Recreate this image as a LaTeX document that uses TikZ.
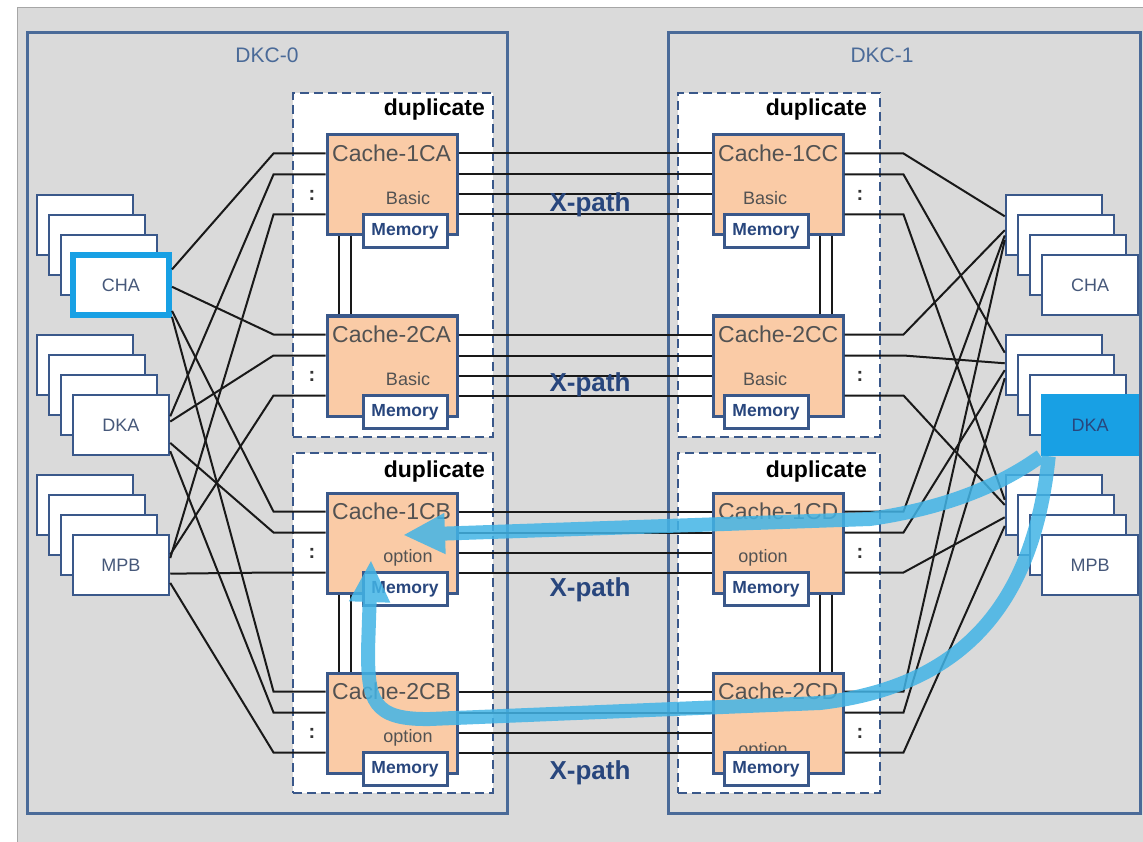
\documentclass[tikz,border=0pt]{standalone}
\usepackage{fontspec}
\setmainfont{Liberation Sans}
\usetikzlibrary{arrows.meta,calc}

\definecolor{bgray}{RGB}{218,218,218}
\definecolor{frameblue}{RGB}{74,106,152}
\definecolor{boxblue}{RGB}{58,88,138}
\definecolor{peach}{RGB}{250,203,166}
\definecolor{cyanhl}{RGB}{24,160,228}
\definecolor{flowblue}{RGB}{66,180,230}
\definecolor{xpathblue}{RGB}{40,70,125}
\definecolor{labelgray}{RGB}{82,82,82}
\definecolor{cardtext}{RGB}{70,88,122}

\tikzset{
  dkcbox/.style={draw=frameblue, line width=3pt, fill=bgray},
  dupbox/.style={draw=boxblue, line width=2.5pt, dash pattern=on 9pt off 5pt, fill=white},
  card/.style={draw=boxblue, line width=2.5pt, fill=white, minimum width=96pt,
    minimum height=60pt, inner sep=0pt, font=\fontsize{18}{20}\selectfont, text=cardtext},
  cache/.style={draw=boxblue, line width=3pt, fill=peach, minimum width=130pt,
    minimum height=100pt, inner sep=0pt},
  mem/.style={draw=boxblue, line width=3pt, fill=white, minimum width=84pt,
    minimum height=33pt, inner sep=0pt, font=\bfseries\fontsize{17.5}{19}\selectfont, text=xpathblue},
  cachename/.style={font=\fontsize{23}{25}\selectfont, text=labelgray, inner sep=0pt, anchor=west},
  cachekind/.style={font=\fontsize{18}{20}\selectfont, text=labelgray, inner sep=0pt},
  duptext/.style={font=\bfseries\fontsize{23}{25}\selectfont, inner sep=0pt, anchor=east},
  xpath/.style={font=\bfseries\fontsize{26}{28}\selectfont, text=xpathblue, inner sep=0pt},
  dkctext/.style={font=\fontsize{21}{23}\selectfont, text=frameblue, inner sep=0pt},
  dots/.style={font=\bfseries\fontsize{20}{22}\selectfont, text=black!80, inner sep=0pt},
  wire/.style={draw=black!90, line width=2pt},
  flow/.style={draw=flowblue, line width=14pt, -{Triangle[length=42pt,width=38pt]}},
}

\begin{document}
\begin{tikzpicture}[x=1pt,y=-1pt]
    % frame
    \useasboundingbox (0,0) rectangle (1143,842);
    \fill[white] (0,0) rectangle (1143,842);
    \fill[bgray] (17,8) rectangle (1143,842);
    \draw[black!35, line width=1pt] (17,842) -- (17,8) -- (1143,8);

    % the two controllers
    \node[dkcbox, minimum width=480pt, minimum height=780pt] (dkc0) at (267,423) {};
    \node[dkcbox, minimum width=472pt, minimum height=780pt] (dkc1) at (904,423) {};
    \node[dkctext] (dkc0t) at (267,55) {DKC-0};
    \node[dkctext] (dkc1t) at (882,55) {DKC-1};

    % duplicate areas
    \begin{scope}[every node/.style={dupbox}]
        \node[minimum width=200pt, minimum height=344pt] (dupa) at (393,265) {};
        \node[minimum width=200pt, minimum height=340pt] (dupb) at (393,623) {};
        \node[minimum width=202pt, minimum height=344pt] (dupc) at (779,265) {};
        \node[minimum width=202pt, minimum height=340pt] (dupd) at (779,623) {};
    \end{scope}
    \begin{scope}[every node/.style={duptext}]
        \node (dupat) at (485,110) {duplicate};
        \node (dupbt) at (485,472) {duplicate};
        \node (dupct) at (867,110) {duplicate};
        \node (dupdt) at (867,472) {duplicate};
    \end{scope}

    % adapter cards, DKC-0
    \begin{scope}[every node/.style={card}]
        \node (chal0) at (85,225) {};
        \node (chal1) at (97,245) {};
        \node (chal2) at (109,265) {};
        \node[draw=cyanhl, line width=6pt] (chal) at (121,285) {CHA};
        \node (dkal0) at (85,365) {};
        \node (dkal1) at (97,385) {};
        \node (dkal2) at (109,405) {};
        \node (dkal) at (121,425) {DKA};
        \node (mpbl0) at (85,505) {};
        \node (mpbl1) at (97,525) {};
        \node (mpbl2) at (109,545) {};
        \node (mpbl) at (121,565) {MPB};
    \end{scope}

    % adapter cards, DKC-1
    \begin{scope}[every node/.style={card}]
        \node (char0) at (1054,225) {};
        \node (char1) at (1066,245) {};
        \node (char2) at (1078,265) {};
        \node (char) at (1090,285) {CHA};
        \node (dkar0) at (1054,365) {};
        \node (dkar1) at (1066,385) {};
        \node (dkar2) at (1078,405) {};
        \node[fill=cyanhl, draw=cyanhl, text=xpathblue] (dkar) at (1090,425) {DKA};
        \node (mpbr0) at (1054,505) {};
        \node (mpbr1) at (1066,525) {};
        \node (mpbr2) at (1078,545) {};
        \node (mpbr) at (1090,565) {MPB};
    \end{scope}

    % caches
    \begin{scope}[every node/.style={cache}]
        \node (c1a) at (392,185) {};
        \node (c2a) at (392,366) {};
        \node (c1b) at (392,543) {};
        \node (c2b) at (392,723) {};
        \node (c1c) at (778,185) {};
        \node (c2c) at (778,366) {};
        \node (c1d) at (778,543) {};
        \node (c2d) at (778,723) {};
    \end{scope}

    % cache to adapter wiring, DKC-0
    \begin{scope}[every path/.style={wire}]
        \draw ($(c1a.north west)+(0,20)$) -- ++(-52,0) -- (chal.17);
        \draw ($(c1a.north west)+(0,41)$) -- ++(-52,0) -- (dkal.10);
        \draw ($(c1a.north west)+(0,81)$) -- ++(-52,0) -- (mpbl.8);
        \draw ($(c2a.north west)+(0,20)$) -- ++(-52,0) -- (chal.-2);
        \draw ($(c2a.north west)+(0,41)$) -- ++(-52,0) -- (dkal.4);
        \draw ($(c2a.north west)+(0,81)$) -- ++(-52,0) -- (mpbl.12);
        \draw ($(c1b.north west)+(0,20)$) -- ++(-52,0) -- (chal.-27);
        \draw ($(c1b.north west)+(0,41)$) -- ++(-52,0) -- (dkal.-20);
        \draw ($(c1b.north west)+(0,81)$) -- ++(-52,0) -- (mpbl.-10);
        \draw ($(c2b.north west)+(0,20)$) -- ++(-52,0) -- (chal.-32);
        \draw ($(c2b.north west)+(0,41)$) -- ++(-52,0) -- (dkal.-28);
        \draw ($(c2b.north west)+(0,81)$) -- ++(-52,0) -- (mpbl.-20);
    \end{scope}

    % cache to adapter wiring, DKC-1
    \begin{scope}[every path/.style={wire}]
        \draw ($(c1c.north east)+(0,20)$) -- ++(59,0) -- (char0.170);
        \draw ($(c1c.north east)+(0,41)$) -- ++(59,0) -- (dkar0.166);
        \draw ($(c1c.north east)+(0,81)$) -- ++(59,0) -- (mpbr0.174);
        \draw ($(c2c.north east)+(0,20)$) -- ++(59,0) -- (char0.186);
        \draw ($(c2c.north east)+(0,41)$) -- ++(59,0) -- (dkar0.178);
        \draw ($(c2c.north east)+(0,81)$) -- ++(59,0) -- (mpbr0.180);
        \draw ($(c1d.north east)+(0,20)$) -- ++(59,0) -- (char0.192);
        \draw ($(c1d.north east)+(0,41)$) -- ++(59,0) -- (dkar0.186);
        \draw ($(c1d.north east)+(0,81)$) -- ++(59,0) -- (mpbr0.194);
        \draw ($(c2d.north east)+(0,20)$) -- ++(59,0) -- (char0.197);
        \draw ($(c2d.north east)+(0,41)$) -- ++(59,0) -- (dkar0.195);
        \draw ($(c2d.north east)+(0,81)$) -- ++(59,0) -- (mpbr0.203);
    \end{scope}

    % X-path links
    \begin{scope}[every path/.style={wire}]
        \draw ($(c1a.north east)+(0,20)$) -- ($(c1c.north west)+(0,20)$);
        \draw ($(c1a.north east)+(0,41)$) -- ($(c1c.north west)+(0,41)$);
        \draw ($(c1a.north east)+(0,61)$) -- ($(c1c.north west)+(0,61)$);
        \draw ($(c1a.north east)+(0,81)$) -- ($(c1c.north west)+(0,81)$);
        \draw ($(c2a.north east)+(0,20)$) -- ($(c2c.north west)+(0,20)$);
        \draw ($(c2a.north east)+(0,41)$) -- ($(c2c.north west)+(0,41)$);
        \draw ($(c2a.north east)+(0,61)$) -- ($(c2c.north west)+(0,61)$);
        \draw ($(c2a.north east)+(0,81)$) -- ($(c2c.north west)+(0,81)$);
        \draw ($(c1b.north east)+(0,20)$) -- ($(c1d.north west)+(0,20)$);
        \draw ($(c1b.north east)+(0,41)$) -- ($(c1d.north west)+(0,41)$);
        \draw ($(c1b.north east)+(0,61)$) -- ($(c1d.north west)+(0,61)$);
        \draw ($(c1b.north east)+(0,81)$) -- ($(c1d.north west)+(0,81)$);
        \draw ($(c2b.north east)+(0,20)$) -- ($(c2d.north west)+(0,20)$);
        \draw ($(c2b.north east)+(0,41)$) -- ($(c2d.north west)+(0,41)$);
        \draw ($(c2b.north east)+(0,61)$) -- ($(c2d.north west)+(0,61)$);
        \draw ($(c2b.north east)+(0,81)$) -- ($(c2d.north west)+(0,81)$);
        % duplicate pairs
        \draw ($(c1a.south west)+(13,0)$) -- ($(c2a.north west)+(13,0)$);
        \draw ($(c1a.south west)+(25,0)$) -- ($(c2a.north west)+(25,0)$);
        \draw ($(c1b.south west)+(13,0)$) -- ($(c2b.north west)+(13,0)$);
        \draw ($(c1b.south west)+(25,0)$) -- ($(c2b.north west)+(25,0)$);
        \draw ($(c1c.south west)+(108,0)$) -- ($(c2c.north west)+(108,0)$);
        \draw ($(c1c.south west)+(120,0)$) -- ($(c2c.north west)+(120,0)$);
        \draw ($(c1d.south west)+(108,0)$) -- ($(c2d.north west)+(108,0)$);
        \draw ($(c1d.south west)+(120,0)$) -- ($(c2d.north west)+(120,0)$);
    \end{scope}

    % cache texts
    \begin{scope}[every node/.style={cachename}]
        \node (c1at) at (332,153) {Cache-1CA};
        \node (c2at) at (332,334) {Cache-2CA};
        \node (c1bt) at (332,511) {Cache-1CB};
        \node (c2bt) at (332,691) {Cache-2CB};
        \node (c1ct) at (718,153) {Cache-1CC};
        \node (c2ct) at (718,334) {Cache-2CC};
        \node (c1dt) at (718,511) {Cache-1CD};
        \node (c2dt) at (718,691) {Cache-2CD};
    \end{scope}
    \begin{scope}[every node/.style={cachekind}]
        \node (c1ak) at (408,198) {Basic};
        \node (c2ak) at (408,379) {Basic};
        \node (c1bk) at (408,558) {option};
        \node (c2bk) at (408,738) {option};
        \node (c1ck) at (765,198) {Basic};
        \node (c2ck) at (765,379) {Basic};
        \node (c1dk) at (763,558) {option};
        \node (c2dk) at (763,751) {option};
    \end{scope}
    \begin{scope}[every node/.style={mem}]
        \node (m1a) at (405,231) {Memory};
        \node (m2a) at (405,412) {Memory};
        \node (m1b) at (405,589) {Memory};
        \node (m2b) at (405,769) {Memory};
        \node (m1c) at (766,231) {Memory};
        \node (m2c) at (766,412) {Memory};
        \node (m1d) at (766,589) {Memory};
        \node (m2d) at (766,769) {Memory};
    \end{scope}
    \begin{scope}[every node/.style={dots}]
        \node (d1a) at (312,195) {:};
        \node (d2a) at (312,376) {:};
        \node (d1b) at (312,553) {:};
        \node (d2b) at (312,733) {:};
        \node (d1c) at (860,195) {:};
        \node (d2c) at (860,376) {:};
        \node (d1d) at (860,553) {:};
        \node (d2d) at (860,733) {:};
    \end{scope}
    \begin{scope}[every node/.style={xpath}]
        \node (xp1) at (590,205) {X-path};
        \node (xp2) at (590,385) {X-path};
        \node (xp3) at (590,590) {X-path};
        \node (xp4) at (590,773) {X-path};
    \end{scope}

    % data flow from DKA of DKC-1
    \begin{scope}[transparency group, opacity=0.85]
        \draw[flow] (dkar.south west) .. controls (1010,478) and (960,506) .. (870,519)
            -- ($(c1b.center)+(11,-8)$);
        \draw[flow] ($(dkar.south west)+(8,0)$) .. controls (1035,590) and (975,685) .. (820,703)
            -- (430,719) .. controls (372,720) and (368,700) .. (368,650) -- ($(c1b.center)+(-21,17)$);
    \end{scope}
\end{tikzpicture}
\end{document}
